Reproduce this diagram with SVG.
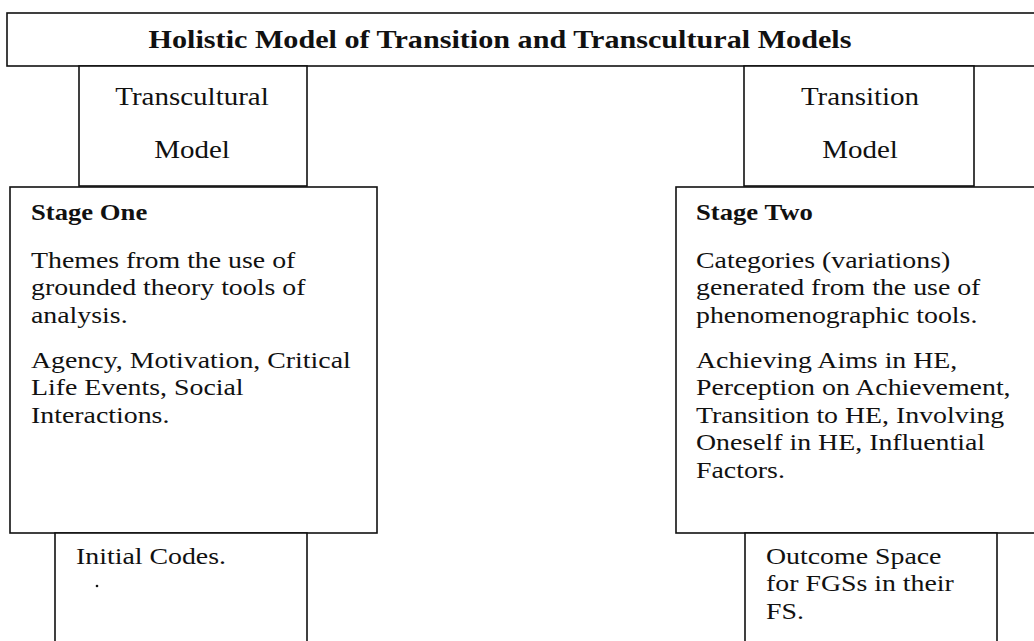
<svg xmlns="http://www.w3.org/2000/svg" width="1034" height="641" viewBox="0 0 1034 641">
<style>
  .box { fill: #fff; stroke: #111; stroke-width: 1.6; }
  .t { font-family: "Liberation Serif", "Times New Roman", serif; fill: #111; }
  .title { font-size: 26px; font-weight: bold; }
  .lbl { font-size: 25px; }
  .head { font-size: 23px; font-weight: bold; }
  .body { font-size: 24px; }
</style>
<rect width="1034" height="641" fill="#fff"/>
<g id="connectors"></g>
<g id="title">
  <rect class="box" x="7" y="13" width="1040" height="53"/>
  <text class="t title" text-anchor="middle" transform="translate(500 48) scale(1.16 1)">Holistic Model of Transition and Transcultural Models</text>
</g>
<g id="transcultural-model">
  <rect class="box" x="79" y="66" width="228" height="120"/>
  <text class="t lbl" text-anchor="middle" transform="translate(192 105) scale(1.16 1)"><tspan x="0" y="0">Transcultural</tspan><tspan x="0" y="53">Model</tspan></text>
</g>
<g id="transition-model">
  <rect class="box" x="744" y="66" width="230" height="120"/>
  <text class="t lbl" text-anchor="middle" transform="translate(860 105) scale(1.16 1)"><tspan x="0" y="0">Transition</tspan><tspan x="0" y="53">Model</tspan></text>
</g>
<g id="stage-one">
  <rect class="box" x="10" y="187" width="367" height="346"/>
  <text class="t head" transform="translate(31 220) scale(1.16 1)">Stage One</text>
  <text class="t body" transform="translate(31 268) scale(1.16 1)"><tspan x="0" y="0">Themes from the use of</tspan><tspan x="0" y="27.5">grounded theory tools of</tspan><tspan x="0" y="55">analysis.</tspan><tspan x="0" y="100">Agency, Motivation, Critical</tspan><tspan x="0" y="127.5">Life Events, Social</tspan><tspan x="0" y="155">Interactions.</tspan></text>
</g>
<g id="stage-two">
  <rect class="box" x="676" y="187" width="370" height="346"/>
  <text class="t head" transform="translate(696 220) scale(1.16 1)">Stage Two</text>
  <text class="t body" transform="translate(696 268) scale(1.16 1)"><tspan x="0" y="0">Categories (variations)</tspan><tspan x="0" y="27.5">generated from the use of</tspan><tspan x="0" y="55">phenomenographic tools.</tspan><tspan x="0" y="100">Achieving Aims in HE,</tspan><tspan x="0" y="127.5">Perception on Achievement,</tspan><tspan x="0" y="155">Transition to HE, Involving</tspan><tspan x="0" y="182.5">Oneself in HE, Influential</tspan><tspan x="0" y="210">Factors.</tspan></text>
</g>
<g id="initial-codes">
  <rect class="box" x="55" y="533" width="252" height="120"/>
  <text class="t body" transform="translate(76 564) scale(1.16 1)"><tspan x="0" y="0">Initial Codes.</tspan></text>
  <circle cx="97" cy="586" r="1.3" fill="#111"/>
</g>
<g id="outcome-space">
  <rect class="box" x="745" y="533" width="252" height="120"/>
  <text class="t body" transform="translate(766 564) scale(1.16 1)"><tspan x="0" y="0">Outcome Space</tspan><tspan x="0" y="27.5">for FGSs in their</tspan><tspan x="0" y="55">FS.</tspan></text>
</g>
</svg>
